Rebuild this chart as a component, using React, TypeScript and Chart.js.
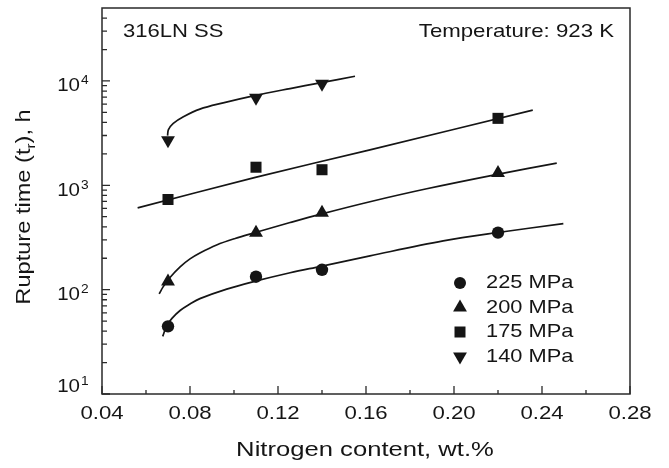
import React, { useEffect, useRef } from 'react';
import { Chart, registerables } from 'chart.js';

Chart.register(...registerables);

// Measured rupture times (h) vs nitrogen content (wt.%)
const nitrogen = [0.07, 0.11, 0.14, 0.22];
const nitrogen140 = [0.07, 0.11, 0.14];
const rupture225 = [44.5, 133, 155, 352];
const rupture200 = [120, 350, 545, 1310];
const rupture175 = [731, 1490, 1410, 4380];
const rupture140 = [2700, 6900, 9420];

// Fitted curves
const fit225N = [0.0676, 0.0694, 0.0718, 0.0755, 0.08, 0.0845, 0.0967, 0.1097, 0.1255, 0.1395, 0.1618, 0.1951, 0.22, 0.2497];
const fit225T = [35.7, 44.9, 53, 63.1, 72.8, 82, 101.2, 120.5, 145.2, 167.4, 210.7, 293, 353, 429.5];
const fit200N = [0.066, 0.0677, 0.0709, 0.0755, 0.08, 0.0845, 0.0921, 0.1005, 0.1097, 0.1255, 0.1395, 0.1618, 0.1876, 0.2197, 0.2467];
const fit200T = [91, 105.7, 130.9, 165.6, 197.3, 225, 268.3, 309.4, 352.8, 439.5, 529.5, 696, 926, 1273, 1630];
const fit175N = [0.0562, 0.1097, 0.1618, 0.2358];
const fit175T = [608, 1190, 2188, 5260];
const fit140N = [0.0698, 0.0702, 0.0724, 0.077, 0.0845, 0.0951, 0.1088, 0.1255, 0.1391, 0.155];
const fit140T = [2993, 3412, 3918, 4539, 5370, 6166, 7197, 8455, 9575, 11090];

const seriesLabels = ['225 MPa', '200 MPa', '175 MPa', '140 MPa'];
const xTickLabels = ['0.04', '0.08', '0.12', '0.16', '0.20', '0.24', '0.28'];
const xMinorTicks = [0.06, 0.1, 0.14, 0.18, 0.22, 0.26];
const yTickValues = [10, 100, 1000, 10000];
const yTickExponents = ['1', '2', '3', '4'];
const xTitle = 'Nitrogen content, wt.%';
const yTitleParts = ['Rupture time (t', 'r', '), h'];
const alloyLabel = '316LN SS';
const tempLabel = 'Temperature: 923 K';

const FONT = '"Liberation Sans", Arial, Helvetica, sans-serif';
const INK = '#151515';

function pts(xs: number[], ys: number[]) {
  return xs.map((x, i) => ({ x, y: ys[i] }));
}

function txt(ctx: CanvasRenderingContext2D, s: string, x: number, y: number, size: number, align: CanvasTextAlign, sx = 1.18) {
  ctx.save();
  ctx.font = `${size}px ${FONT}`;
  ctx.fillStyle = INK;
  ctx.textBaseline = 'middle';
  ctx.textAlign = align;
  ctx.translate(x, y);
  ctx.scale(sx, 1);
  ctx.fillText(s, 0, 0);
  ctx.restore();
}

function marker(ctx: CanvasRenderingContext2D, kind: string, x: number, y: number) {
  ctx.save();
  ctx.fillStyle = INK;
  ctx.beginPath();
  if (kind === 'circle') {
    ctx.arc(x, y, 6, 0, Math.PI * 2);
  } else if (kind === 'rect') {
    ctx.rect(x - 5.5, y - 5.5, 11, 11);
  } else if (kind === 'up') {
    const r = 8;
    ctx.moveTo(x, y - r);
    ctx.lineTo(x + r * 0.866, y + r * 0.5);
    ctx.lineTo(x - r * 0.866, y + r * 0.5);
  } else {
    const r = 8;
    ctx.moveTo(x, y + r);
    ctx.lineTo(x + r * 0.866, y - r * 0.5);
    ctx.lineTo(x - r * 0.866, y - r * 0.5);
  }
  ctx.closePath();
  ctx.fill();
  ctx.restore();
}

const decorPlugin = {
  id: 'decor',
  beforeDraw(chart: any) {
    const ctx = chart.ctx as CanvasRenderingContext2D;
    ctx.save();
    ctx.fillStyle = '#ffffff';
    ctx.fillRect(0, 0, chart.width, chart.height);
    ctx.restore();
  },
  afterDraw(chart: any) {
    const ctx = chart.ctx as CanvasRenderingContext2D;
    const { left, right, top, bottom } = chart.chartArea;
    const xs = chart.scales.x;
    const ys = chart.scales.y;

    // frame
    ctx.save();
    ctx.strokeStyle = '#2a2a2a';
    ctx.lineWidth = 1.5;
    ctx.strokeRect(left, top, right - left, bottom - top);

    // x ticks (inward)
    ctx.lineWidth = 1.3;
    ctx.beginPath();
    xTickLabels.forEach((l) => {
      const px = xs.getPixelForValue(parseFloat(l));
      ctx.moveTo(px, bottom);
      ctx.lineTo(px, bottom - 8);
    });
    xMinorTicks.forEach((v) => {
      const px = xs.getPixelForValue(v);
      ctx.moveTo(px, bottom);
      ctx.lineTo(px, bottom - 4);
    });
    // y ticks (inward)
    yTickValues.forEach((v) => {
      const py = ys.getPixelForValue(v);
      ctx.moveTo(left, py);
      ctx.lineTo(left + 8, py);
      for (let m = 2; m <= 9; m++) {
        const mv = v * m;
        if (mv >= ys.max) continue;
        const mp = ys.getPixelForValue(mv);
        ctx.moveTo(left, mp);
        ctx.lineTo(left + 5, mp);
      }
    });
    ctx.stroke();
    ctx.restore();

    // x tick labels
    xTickLabels.forEach((l) => {
      const px = xs.getPixelForValue(parseFloat(l));
      txt(ctx, l, px, 414, 18.5, 'center', 1.2);
    });
    // y tick labels 10^n
    yTickValues.forEach((v, i) => {
      const py = ys.getPixelForValue(v);
      const cy = i === 0 ? py - 7 : py + 5;
      txt(ctx, '10', 80, cy, 19, 'right', 1.08);
      txt(ctx, yTickExponents[i], 81, cy - 5, 12.5, 'left', 1.1);
    });

    // axis titles
    txt(ctx, xTitle, 365, 450, 21, 'center', 1.22);

    ctx.save();
    ctx.fillStyle = INK;
    ctx.textBaseline = 'middle';
    ctx.textAlign = 'left';
    ctx.translate(24, 207);
    ctx.rotate(-Math.PI / 2);
    ctx.scale(1.18, 1);
    ctx.font = `20px ${FONT}`;
    const w1 = ctx.measureText(yTitleParts[0]).width;
    const w3 = ctx.measureText(yTitleParts[2]).width;
    ctx.font = `13px ${FONT}`;
    const w2 = ctx.measureText(yTitleParts[1]).width;
    let x0 = -(w1 + w2 + w3) / 2;
    ctx.font = `20px ${FONT}`;
    ctx.fillText(yTitleParts[0], x0, 0);
    x0 += w1;
    ctx.font = `13px ${FONT}`;
    ctx.fillText(yTitleParts[1], x0, 7);
    x0 += w2;
    ctx.font = `20px ${FONT}`;
    ctx.fillText(yTitleParts[2], x0, 0);
    ctx.restore();

    // annotations
    txt(ctx, alloyLabel, 123, 32, 19, 'left', 1.16);
    txt(ctx, tempLabel, 614, 32, 19, 'right', 1.17);

    // legend
    const kinds = ['circle', 'up', 'rect', 'down'];
    const rows = [283, 307.5, 332, 356.5];
    seriesLabels.forEach((l, i) => {
      marker(ctx, kinds[i], 460, rows[i]);
      txt(ctx, l, 486, rows[i], 18.5, 'left', 1.18);
    });
  },
};

export default function App() {
  const ref = useRef<HTMLCanvasElement | null>(null);

  useEffect(() => {
    document.body.style.margin = '0';
    const canvas = ref.current;
    if (!canvas) return;
    const lineStyle = {
      showLine: true,
      pointRadius: 0,
      borderColor: INK,
      borderWidth: 1.7,
      tension: 0.35,
      fill: false,
    };
    const markStyle = {
      showLine: false,
      backgroundColor: INK,
      borderColor: INK,
      borderWidth: 0,
    };
    const chart = new Chart(canvas, {
      type: 'scatter',
      data: {
        datasets: [
          { label: seriesLabels[0], data: pts(nitrogen, rupture225), pointStyle: 'circle', pointRadius: 6.2, ...markStyle },
          { label: seriesLabels[1], data: pts(nitrogen, rupture200), pointStyle: 'triangle', pointRadius: 8, ...markStyle },
          { label: seriesLabels[2], data: pts(nitrogen, rupture175), pointStyle: 'rect', pointRadius: 7.8, ...markStyle },
          { label: seriesLabels[3], data: pts(nitrogen140, rupture140), pointStyle: 'triangle', pointRotation: 180, pointRadius: 8, ...markStyle },
          { label: 'fit 225', data: pts(fit225N, fit225T), ...lineStyle },
          { label: 'fit 200', data: pts(fit200N, fit200T), ...lineStyle },
          { label: 'fit 175', data: pts(fit175N, fit175T), ...lineStyle },
          { label: 'fit 140', data: pts(fit140N, fit140T), ...lineStyle },
        ] as any,
      },
      options: {
        animation: false,
        responsive: false,
        devicePixelRatio: 1,
        events: [],
        layout: { padding: { left: 0, right: 39, top: 5, bottom: 0 } },
        plugins: { legend: { display: false }, tooltip: { enabled: false } },
        scales: {
          x: {
            type: 'linear',
            min: 0.04,
            max: 0.28,
            grid: { display: false },
            border: { display: false },
            ticks: { display: false },
            afterFit: (s: any) => { s.height = 74; },
          },
          y: {
            type: 'logarithmic',
            min: 10,
            max: 50000,
            grid: { display: false },
            border: { display: false },
            ticks: { display: false },
            afterFit: (s: any) => { s.width = 102; },
          },
        },
      } as any,
      plugins: [decorPlugin],
    });
    return () => chart.destroy();
  }, []);

  return (
    <div style={{ position: 'absolute', left: 0, top: 0, width: 669, height: 468, background: '#fff' }}>
      <canvas ref={ref} width={669} height={468} style={{ display: 'block' }} />
    </div>
  );
}
